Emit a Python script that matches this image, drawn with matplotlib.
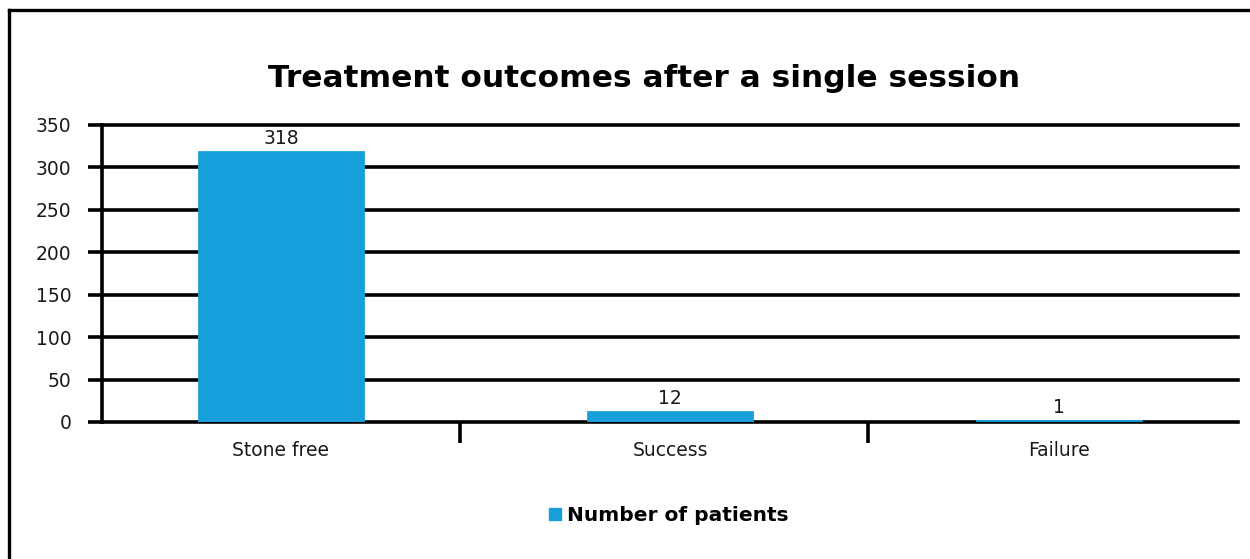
import matplotlib
matplotlib.use('Agg')
import matplotlib.pyplot as plt
from matplotlib.lines import Line2D

categories = ['Stone free', 'Success', 'Failure']
patients = [318, 12, 1]
series_name = 'Number of patients'
y_ticks = [0, 50, 100, 150, 200, 250, 300, 350]

bar_color = '#169fdb'
plt.rcParams['font.family'] = ['DejaVu Sans']

fig = plt.figure(figsize=(12.5, 5.59), dpi=100)
ax = fig.add_axes([0.0816, 0.2451, 0.9088, 0.5313])

x = range(len(categories))
bars = ax.bar(x, patients, width=0.42, color=bar_color, edgecolor=bar_color,
              linewidth=2, zorder=3)

# horizontal gridlines, black and heavy like the original
for v in y_ticks:
    ax.axhline(v, color='black', linewidth=2.6, zorder=2, clip_on=False)

for b, v in zip(bars, patients):
    ax.text(b.get_x() + b.get_width() / 2, v + 5, str(v), ha='center', va='bottom',
            fontsize=13.5, color='#1a1a1a', zorder=4)

ax.set_xlim(-0.46, 2.46)
ax.set_ylim(0, 350)
ax.set_yticks(y_ticks)
ax.set_yticklabels([str(v) for v in y_ticks], fontsize=13.5, color='#1a1a1a')
ax.set_xticks(list(x))
ax.set_xticklabels(categories, fontsize=13.5, color='#1a1a1a')
ax.tick_params(axis='x', length=0, pad=14)
ax.tick_params(axis='y', length=10, width=2.6, pad=12)

# category separators below the axis
ax.set_xticks([0.46, 1.51], minor=True)
ax.tick_params(axis='x', which='minor', length=15, width=2.6, direction='out')

for s in ['top', 'right', 'bottom']:
    ax.spines[s].set_visible(False)
ax.spines['left'].set_linewidth(2.6)
ax.spines['left'].set_zorder(5)

fig.text(0.515, 0.86, 'Treatment outcomes after a single session', ha='center', va='center',
         fontsize=22.5, fontweight='bold', color='black')

handle = Line2D([], [], marker='s', linestyle='none', markersize=8.5, color=bar_color)
fig.legend([handle], [series_name], loc='center', bbox_to_anchor=(0.534, 0.077),
           frameon=False, handlelength=0.8, handletextpad=0.2,
           prop={'weight': 'bold', 'size': 14.5})

# outer frame (left and top edges visible)
fig.add_artist(Line2D([0.0068, 0.0068], [0, 0.982], color='black', linewidth=2.4))
fig.add_artist(Line2D([0.0068, 1.0], [0.982, 0.982], color='black', linewidth=2.4))

fig.savefig('out.png', dpi=100, facecolor='white')
